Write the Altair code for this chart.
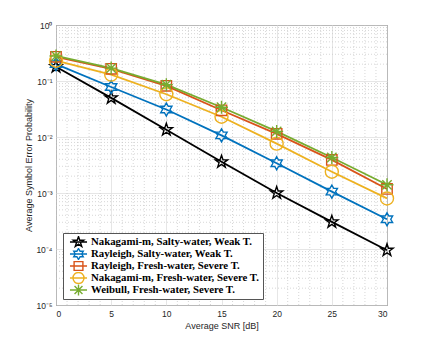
import math
import altair as alt
import pandas as pd

# ---- data ----
snr = [0, 5, 10, 15, 20, 25, 30]
series_names = [
    "Nakagami-m, Salty-water, Weak T.",
    "Rayleigh, Salty-water, Weak T.",
    "Rayleigh, Fresh-water, Severe T.",
    "Nakagami-m, Fresh-water, Severe T.",
    "Weibull, Fresh-water, Severe T.",
]
ser_nak_salty = [0.18, 0.05, 0.0135, 3.6e-3, 1.0e-3, 3.05e-4, 9.5e-5]
ser_ray_salty = [0.20, 0.078, 0.031, 0.0107, 3.4e-3, 1.06e-3, 3.4e-4]
ser_ray_fresh = [0.27, 0.165, 0.082, 0.030, 0.0114, 3.9e-3, 1.18e-3]
ser_nak_fresh = [0.23, 0.13, 0.058, 0.023, 0.0076, 2.4e-3, 8.0e-4]
ser_wei_fresh = [0.28, 0.17, 0.086, 0.034, 0.0126, 4.3e-3, 1.4e-3]
all_series = [ser_nak_salty, ser_ray_salty, ser_ray_fresh, ser_nak_fresh, ser_wei_fresh]

colors = ["#000000", "#0072BD", "#D95319", "#EDB120", "#77AC30"]

x_ticks = [0, 5, 10, 15, 20, 25, 30]
y_ticks = [1e-5, 1e-4, 1e-3, 1e-2, 1e-1, 1]
y_tick_labels = ["10⁻⁵", "10⁻⁴", "10⁻³", "10⁻²", "10⁻¹", "10⁰"]
x_minor = [v for v in range(1, 30) if v % 5 != 0]
y_minor = [m * 10.0 ** e for e in range(-5, 0) for m in range(2, 10)]

rows = []
for name, vals in zip(series_names, all_series):
    for s, v in zip(snr, vals):
        rows.append({"snr": s, "ser": v, "series": name})
df = pd.DataFrame(rows)


# ---- marker shapes (unit paths) ----
def fmt(v):
    return f"{v:.3f}"


def star(n, r_out, r_in, k=1.0):
    pts = []
    for i in range(2 * n):
        r = r_out if i % 2 == 0 else r_in
        a = math.radians(-90 + i * 180.0 / n)
        pts.append((k * r * math.cos(a), k * r * math.sin(a)))
    return "M" + "L".join(f"{fmt(x)},{fmt(y)}" for x, y in pts) + "Z"


def square(k=1.0):
    s = 0.8 * k
    return f"M{fmt(-s)},{fmt(-s)}L{fmt(s)},{fmt(-s)}L{fmt(s)},{fmt(s)}L{fmt(-s)},{fmt(s)}Z"


def circle(k=1.0):
    r = k
    return f"M{fmt(r)},0A{fmt(r)},{fmt(r)},0,1,1,{fmt(-r)},0A{fmt(r)},{fmt(r)},0,1,1,{fmt(r)},0Z"


def asterisk(k=1.0):
    d = 0.72 * k
    return (f"M0,{fmt(-k)}L0,{fmt(k)}M{fmt(-k)},0L{fmt(k)},0"
            f"M{fmt(-d)},{fmt(-d)}L{fmt(d)},{fmt(d)}M{fmt(-d)},{fmt(d)}L{fmt(d)},{fmt(-d)}")


def shapes(k=1.0):
    return [star(5, 1.0, 0.39, k), star(6, 1.0, 0.577, k), square(k), circle(k), asterisk(k)]


plot_shapes = shapes(1.0)
legend_shapes = ["M-1.55,0L1.55,0" + p for p in shapes(1.0)]

x_scale = alt.Scale(domain=[0, 30], nice=False, zero=False)
y_scale = alt.Scale(type="log", domain=[1e-5, 1], nice=False)
color_scale = alt.Scale(domain=series_names, range=colors)

label_expr = " : ".join(
    f"datum.value < {v * 1.5} ? '{l}'" for v, l in zip(y_ticks, y_tick_labels)
) + " : ''"

base = alt.Chart(df)

x_enc = alt.X("snr:Q", scale=x_scale,
              axis=alt.Axis(values=x_ticks, title="Average SNR [dB]", grid=True))
y_enc = alt.Y("ser:Q", scale=y_scale,
              axis=alt.Axis(values=y_ticks, labelExpr=label_expr,
                            title="Average Symbol Error Probability", grid=True,
                            titleX=-23, titleY=140))

minor_x = alt.Chart(pd.DataFrame({"v": x_minor})).mark_rule(
    color="#c4c4c4", strokeWidth=0.7, strokeDash=[1, 2]
).encode(x=alt.X("v:Q", scale=x_scale))

minor_y = alt.Chart(pd.DataFrame({"v": y_minor})).mark_rule(
    color="#c4c4c4", strokeWidth=0.7, strokeDash=[1, 2]
).encode(y=alt.Y("v:Q", scale=y_scale))

lines = base.mark_line(strokeWidth=1.8).encode(
    x=x_enc, y=y_enc,
    color=alt.Color("series:N", scale=color_scale, legend=None),
    order=alt.Order("snr:Q"),
)

points = base.mark_point(filled=False, strokeWidth=1.4, size=169, opacity=1).encode(
    x="snr:Q", y="ser:Q",
    color=alt.Color("series:N", scale=color_scale, legend=None),
    shape=alt.Shape("series:N", scale=alt.Scale(domain=series_names, range=plot_shapes), legend=None),
)

legend_layer = base.transform_filter("false").mark_point(filled=False, strokeWidth=1.4, opacity=1).encode(
    x="snr:Q", y="ser:Q",
    color=alt.Color("series:N", scale=alt.Scale(domain=series_names, range=colors), title=None),
    shape=alt.Shape("series:N", scale=alt.Scale(domain=series_names, range=legend_shapes), title=None),
)

chart = alt.layer(minor_x, minor_y, lines, points, legend_layer).resolve_scale(
    shape="independent", color="independent"
).properties(
    width=331, height=280,
    autosize=alt.AutoSizeParams(type="none"),
    padding={"left": 48, "top": 17, "right": 30, "bottom": 28},
).configure_view(
    stroke="#262626", strokeWidth=1
).configure_axis(
    ticks=False, domain=False,
    gridColor="#e0e0e0", gridWidth=0.8,
    labelFont="Liberation Sans", labelFontSize=8.5, labelColor="#262626",
    titleFont="Liberation Sans", titleFontSize=9, titleColor="#262626",
    titleFontWeight="normal", labelPadding=4,
).configure_axisX(
    titlePadding=4,
).configure_legend(
    orient="none", legendX=7, legendY=208,
    strokeColor="#555555", fillColor="white", padding=3,
    labelFont="Liberation Serif", labelFontWeight="bold", labelFontSize=10.8,
    labelColor="black", symbolSize=121, symbolStrokeWidth=1.4,
    rowPadding=0, labelOffset=6, symbolOffset=6, labelLimit=300,
    clipHeight=12,
)

chart.save("out.html", embed_options={"renderer": "svg", "actions": False})
